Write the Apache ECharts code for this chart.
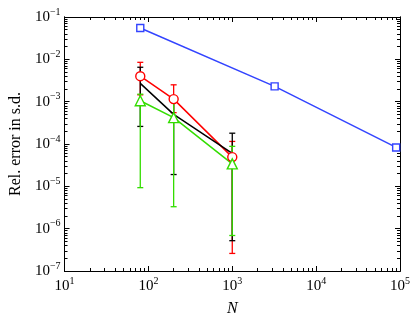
<!DOCTYPE html>
<html>
<head>
<meta charset="utf-8">
<script src="https://cdn.jsdelivr.net/npm/echarts@6/dist/echarts.min.js"></script>
<style>
  html, body { margin: 0; padding: 0; background: #fff; }
  #chart { width: 415px; height: 322px; }
</style>
</head>
<body>
<div id="chart"></div>
<script>
// series values: [N, value]
var blueData = [[80, 5.5e-2], [3200, 2.3e-3], [90000, 8.3e-5]];
var redData = [[80, 4.0e-3], [200, 1.15e-3], [1000, 4.9e-5]];
var blackData = [[80, 2.7e-3], [200, 5.0e-4], [1000, 6.0e-5]];
var greenData = [[80, 1.05e-3], [200, 4.2e-4], [1000, 3.4e-5]];

// error bars: [N, low, high]
var redErr = [[80, 1.45e-3, 8.5e-3], [200, 5.5e-4, 2.5e-3], [1000, 2.6e-7, 1.15e-4]];
var blackErr = [[80, 2.6e-4, 6.5e-3], [200, 1.9e-5, 1.25e-3], [1000, 5.2e-7, 1.8e-4]];
var greenErr = [[80, 9.3e-6, 1.5e-3], [200, 3.3e-6, 1.0e-3], [1000, 6.9e-7, 8.8e-5]];

var xMajor = [10, 100, 1000, 10000, 100000];
var yMajor = [1e-7, 1e-6, 1e-5, 1e-4, 1e-3, 1e-2, 1e-1];

function minorTicks(lo, hi) {
  var out = [];
  for (var d = lo; d < hi; d *= 10) {
    for (var k = 2; k <= 9; k++) out.push(d * k);
  }
  return out;
}
var xMinor = minorTicks(10, 100000);
var yMinor = minorTicks(1e-7, 1e-1);

var font = "Liberation Serif";
var rich = {
  b: { fontFamily: font, fontSize: 15, color: "#000" },
  s: { fontFamily: font, fontSize: 10, color: "#000", padding: [0, 0, 10, 0] }
};
function powLabel(v) {
  var e = Math.round(Math.log10(v));
  return "{b|10}{s|" + (e < 0 ? "\u2212" + (-e) : e) + "}";
}

function xAx(pos, ticks, len, labels) {
  return {
    type: "log", min: 10, max: 100000, position: pos,
    axisLine: { show: true, onZero: false, lineStyle: { color: "#000", width: 1 } },
    axisTick: { show: true, inside: true, length: len, customValues: ticks, lineStyle: { color: "#000" } },
    axisLabel: labels ? { show: true, customValues: xMajor, formatter: powLabel, rich: rich, margin: 5 } : { show: false },
    splitLine: { show: false },
    name: labels ? "N" : "",
    nameLocation: "middle", nameGap: 30,
    nameTextStyle: { fontFamily: font, fontSize: 16, fontStyle: "italic", color: "#000" }
  };
}
function yAx(pos, ticks, len, labels) {
  return {
    type: "log", min: 1e-7, max: 1e-1, position: pos,
    axisLine: { show: true, onZero: false, lineStyle: { color: "#000", width: 1 } },
    axisTick: { show: true, inside: true, length: len, customValues: ticks, lineStyle: { color: "#000" } },
    axisLabel: labels ? { show: true, customValues: yMajor, formatter: powLabel, rich: rich, margin: 4 } : { show: false },
    splitLine: { show: false },
    name: labels ? "Rel. error in s.d." : "",
    nameLocation: "middle", nameGap: 36,
    nameTextStyle: { fontFamily: font, fontSize: 16, color: "#000" }
  };
}

function errSeries(data, color) {
  return {
    type: "custom",
    data: data,
    z: 1,
    renderItem: function (params, api) {
      var x = api.value(0);
      var lo = api.coord([x, api.value(1)]);
      var hi = api.coord([x, api.value(2)]);
      var w = 3;
      var st = { stroke: color, lineWidth: 1.3 };
      return {
        type: "group",
        children: [
          { type: "line", shape: { x1: lo[0], y1: lo[1], x2: hi[0], y2: hi[1] }, style: st },
          { type: "line", shape: { x1: lo[0] - w, y1: lo[1], x2: lo[0] + w, y2: lo[1] }, style: st },
          { type: "line", shape: { x1: hi[0] - w, y1: hi[1], x2: hi[0] + w, y2: hi[1] }, style: st }
        ]
      };
    },
    encode: { x: 0, y: [1, 2] },
    silent: true
  };
}

function lineSeries(data, color, symbol, size) {
  return {
    type: "line",
    data: data,
    symbol: symbol,
    symbolSize: size,
    showAllSymbol: true,
    z: 2,
    lineStyle: { color: color, width: 1.5 },
    itemStyle: { color: "#fff", borderColor: color, borderWidth: 1.4 },
    emphasis: { disabled: true },
    animation: false
  };
}

var chart = echarts.init(document.getElementById("chart"));
chart.setOption({
  backgroundColor: "#fff",
  animation: false,
  grid: { left: 52, right: 15, top: 17, bottom: 45 },
  xAxis: [
    xAx("bottom", xMajor, 5, true),
    xAx("bottom", xMinor, 3, false),
    xAx("top", xMajor, 5, false),
    xAx("top", xMinor, 3, false)
  ],
  yAxis: [
    yAx("left", yMajor, 5, true),
    yAx("left", yMinor, 3, false),
    yAx("right", yMajor, 5, false),
    yAx("right", yMinor, 3, false)
  ],
  series: [
    errSeries(redErr, "#ff0000"),
    errSeries(blackErr, "#000000"),
    errSeries(greenErr, "#33dd00"),
    lineSeries(blueData, "#3344ff", "rect", 7),
    lineSeries(redData, "#ff0000", "circle", 9),
    lineSeries(blackData, "#000000", "triangle", 0),
    lineSeries(greenData, "#33dd00", "triangle", 10)
  ]
});
</script>
</body>
</html>
